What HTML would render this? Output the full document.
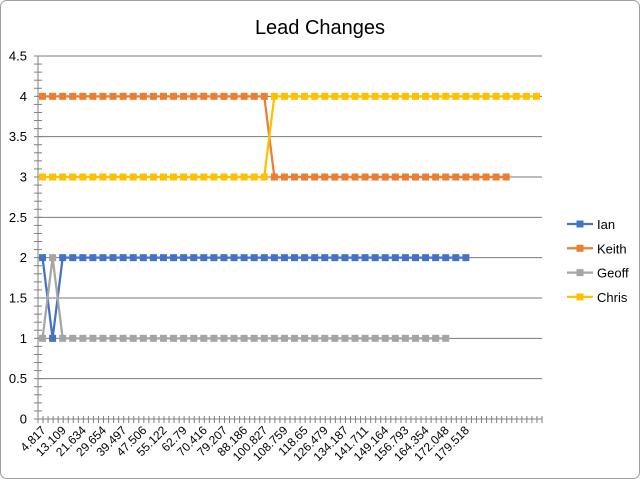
<!DOCTYPE html>
<html><head><meta charset="utf-8"><style>
html,body{margin:0;padding:0;background:#fff;}
svg{display:block;font-family:"Liberation Sans",sans-serif;}
</style></head><body>
<svg id="chart" width="641" height="480" viewBox="0 0 641 480">
<rect x="0.5" y="0.5" width="639" height="478" rx="6" fill="#fff" stroke="#a0a0a0"/>
<text x="320" y="34" text-anchor="middle" font-size="20" fill="#000">Lead Changes</text>
<g id="grid"></g><g id="axes"></g><g id="series"></g><g id="legend"></g>
</svg>
<script>
const xLabels=["4.817","13.109","21.634","29.654","39.497","47.506","55.122","62.79","70.416","79.207","88.186","100.827","108.759","118.65","126.479","134.187","141.711","149.164","156.793","164.354","172.048","179.518"];
const yTicks=[0,0.5,1,1.5,2,2.5,3,3.5,4,4.5];
const seriesNames=["Ian","Keith","Geoff","Chris"];
const seriesColors=["#4472C4","#ED7D31","#A5A5A5","#FFC000"];
function rep(v,n){return Array(n).fill(v);}
const ianValues=[2,1].concat(rep(2,41));
const keithValues=rep(4,23).concat(rep(3,24));
const geoffValues=[1,2].concat(rep(1,39));
const chrisValues=rep(3,23).concat(rep(4,27));
const allSeries=[ianValues,keithValues,geoffValues,chrisValues];

const NS="http://www.w3.org/2000/svg";
const X0=38,X1=542,Y0=419,Y1=56,NCAT=100,YMAX=4.5;
const cw=(X1-X0)/NCAT;
const xCat=c=>X0+2+cw*(c+0.5);
const yS=v=>Y0-(v/YMAX)*(Y0-Y1);
function mk(tag,attrs,parent){const e=document.createElementNS(NS,tag);for(const k in attrs)e.setAttribute(k,attrs[k]);parent.appendChild(e);return e;}
const grid=document.getElementById('grid'),axes=document.getElementById('axes'),ser=document.getElementById('series'),leg=document.getElementById('legend');

yTicks.forEach(v=>{
  if(v>0){const l=mk('line',{x1:X0,x2:X1,y1:yS(v),y2:yS(v),stroke:'#7a7a7a','stroke-width':1},grid);
  
  }
  const t=mk('text',{x:27,y:yS(v)+4.5,'text-anchor':'end','font-size':13,fill:'#000'},axes);
  t.textContent=String(v);
  
  
});
for(let i=0;i<=45;i++){const y=yS(i*0.1);const l=mk('line',{x1:X0-4,x2:X0+4,y1:y,y2:y,stroke:'#808080'},axes);

}
const ya=mk('line',{x1:X0,x2:X0,y1:Y1,y2:Y0,stroke:'#808080'},axes);


const xa=mk('line',{x1:X0,x2:X1,y1:Y0,y2:Y0,stroke:'#808080'},axes);


for(let c=0;c<=NCAT;c++){const x=X0+cw*c;const l=mk('line',{x1:x,x2:x,y1:Y0-3,y2:Y0+4,stroke:'#808080'},axes);

}
xLabels.forEach((s,k)=>{const x=xCat(4*k)+4,y=Y0+12;
  const t=mk('text',{x:x,y:y,'text-anchor':'end','font-size':12,fill:'#000',transform:`rotate(-45 ${x} ${y})`},axes);
  t.textContent=s;
  
  
});

allSeries.forEach((vals,si)=>{
  const g=mk('g',{},ser);
  
  
  const pts=vals.map((v,i)=>xCat(2*i)+','+yS(v)).join(' ');
  const pl=mk('polyline',{points:pts,fill:'none',stroke:seriesColors[si],'stroke-width':2.25},g);
  
  
  vals.forEach((v,i)=>{const r=mk('rect',{x:xCat(2*i)-3.5,y:yS(v)-3.5,width:7,height:7,fill:seriesColors[si]},g);
    
    });
});

seriesNames.forEach((n,i)=>{const y=224+i*24.3;
  const g=mk('g',{},leg);
  
  
  mk('line',{x1:567,x2:593,y1:y,y2:y,stroke:seriesColors[i],'stroke-width':2.25},g);
  mk('rect',{x:576.5,y:y-3.5,width:7,height:7,fill:seriesColors[i]},g);
  const t=mk('text',{x:597,y:y+5,'font-size':13,fill:'#000'},g);
  t.textContent=n;
});
</script>
</body></html>
